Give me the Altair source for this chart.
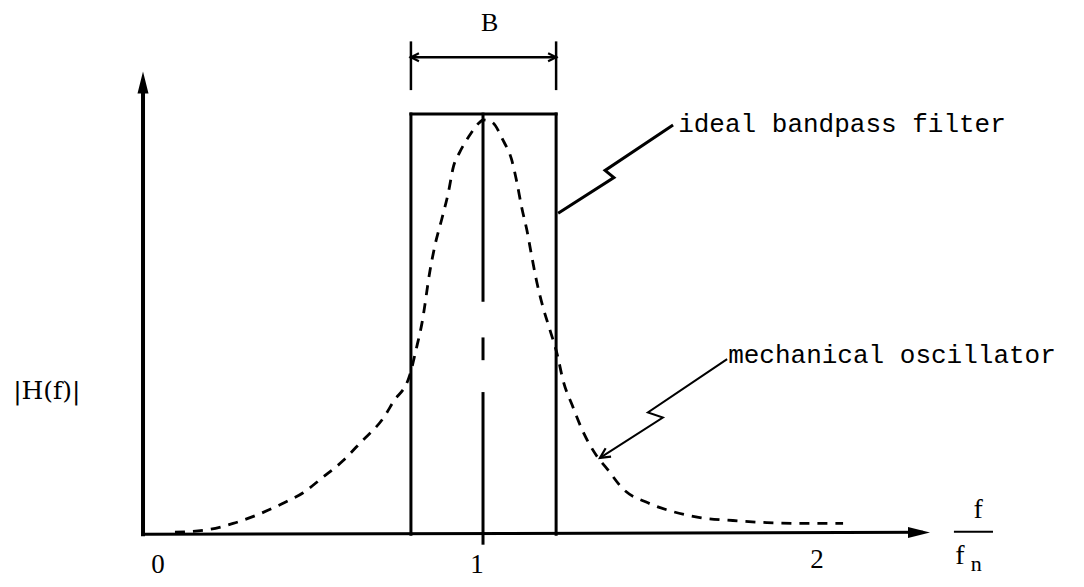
import altair as alt
import pandas as pd

# ---------------- data ----------------
# dashed curve: mechanical oscillator |H(f)| against f/fn
osc_f = [0.094, 0.197, 0.265, 0.338, 0.409, 0.471, 0.526, 0.588, 0.638, 0.712,
         0.735, 0.785, 0.803, 0.821, 0.844, 0.859, 0.879, 0.898, 0.913, 0.932,
         0.957, 0.991, 1.000, 1.026, 1.060, 1.084, 1.099, 1.114, 1.129, 1.143,
         1.158, 1.177, 1.197, 1.218, 1.235, 1.265, 1.291, 1.335, 1.365, 1.412,
         1.485, 1.559, 1.638, 1.735, 1.835, 1.953, 2.059]
osc_h = [0.005, 0.012, 0.026, 0.047, 0.073, 0.099, 0.134, 0.175, 0.217, 0.283,
         0.314, 0.380, 0.439, 0.505, 0.627, 0.689, 0.751, 0.813, 0.875, 0.910,
         0.945, 0.981, 0.986, 0.981, 0.936, 0.892, 0.840, 0.777, 0.724, 0.663,
         0.601, 0.539, 0.486, 0.429, 0.368, 0.302, 0.250, 0.186, 0.156, 0.108,
         0.075, 0.054, 0.040, 0.033, 0.028, 0.026, 0.026]

# ideal bandpass filter: band edges and gain
filter_edges = [0.788, 1.215]
filter_gain = 1.0

# tick labels on the frequency axis
tick_values = [0, 1, 2]
tick_labels = ["0", "1", "2"]

# texts
band_label = "B"
filter_label = "ideal bandpass filter"
osc_label = "mechanical oscillator"
y_label = "|H(f)|"

# ---------------- layout helpers ----------------
xs = alt.Scale(domain=[-0.3971, 2.7441], nice=False, zero=False)
ys = alt.Scale(domain=[-0.0943, 1.2524], nice=False, zero=False)
BLACK = "black"
MONO = "Liberation Mono"
SERIF = "Liberation Serif"


def X(f="x"):
    return alt.X(f"{f}:Q", scale=xs, axis=None)


def Y(f="y"):
    return alt.Y(f"{f}:Q", scale=ys, axis=None)


def rules(rows, width):
    df = pd.DataFrame(rows, columns=["x", "y", "x2", "y2"])
    return alt.Chart(df).mark_rule(color=BLACK, strokeWidth=width, strokeCap="square").encode(
        x=X(), y=Y(), x2="x2:Q", y2="y2:Q")


lo, hi = filter_edges
x_end = 2.29
y_end = 1.078

# axes
axes = rules([[0, 0, 0, y_end]], 4)
xaxis = rules([[0, 0, x_end, 0.005]], 3)

# ideal filter outline
rect = rules([[lo, 0, lo, filter_gain],
              [lo, filter_gain, hi, filter_gain],
              [hi, filter_gain, hi, 0]], 3)

# centre line at f/fn = 1 (long-short broken line)
center_segments = [[1, filter_gain, 1, 0.557], [1, 0.465, 1, 0.418], [1, 0.335, 1, -0.021]]
center = rules(center_segments, 3)

# bandwidth bracket
br_y = 1.135
bracket = rules([[lo, 1.060, lo, 1.170], [hi, 1.060, hi, 1.170], [lo, br_y, hi, br_y]], 2.5)

# fraction bar of f/fn
frac = rules([[2.388, 0.006, 2.497, 0.006]], 2)

# dashed oscillator curve
curve = alt.Chart(pd.DataFrame({"x": osc_f, "y": osc_h})).mark_line(
    color=BLACK, strokeWidth=2.8, strokeDash=[10, 8], interpolate="monotone"
).encode(x=X(), y=Y(), order="x:Q")

# leader lines with zig-zag
lead_ideal = pd.DataFrame({
    "x": [1.559, 1.359, 1.385, 1.221],
    "y": [0.974, 0.866, 0.849, 0.764],
    "o": [0, 1, 2, 3]})
lead_osc = pd.DataFrame({
    "x": [1.718, 1.485, 1.529, 1.344],
    "y": [0.417, 0.290, 0.278, 0.182],
    "o": [0, 1, 2, 3]})
leader1 = alt.Chart(lead_ideal).mark_line(color=BLACK, strokeWidth=3).encode(
    x=X(), y=Y(), order="o:Q")
leader2 = alt.Chart(lead_osc).mark_line(color=BLACK, strokeWidth=2).encode(
    x=X(), y=Y(), order="o:Q")

# arrow heads
filled_heads = pd.DataFrame({"x": [0, 2.3147], "y": [1.1014, 0.0047], "a": [0, 90]})
heads1 = alt.Chart(filled_heads).mark_point(
    shape="M0,0L-0.5,2L0.5,2Z", filled=True, size=484, color=BLACK, opacity=1, strokeWidth=0
).encode(x=X(), y=Y(), angle=alt.Angle("a:Q", scale=None))

open_heads = pd.DataFrame({"x": [lo, hi, 1.344], "y": [br_y, br_y, 0.182],
                           "a": [270, 90, 237], "s": [64, 64, 100]})
heads2 = alt.Chart(open_heads).mark_point(
    shape="M-1,2L0,0L1,2", filled=False, strokeWidth=2.2, color=BLACK, opacity=1
).encode(x=X(), y=Y(), angle=alt.Angle("a:Q", scale=None), size=alt.Size("s:Q", scale=None))


def text(label, x, y, size=26, align="left", font=MONO):
    return alt.Chart(pd.DataFrame({"x": [x], "y": [y], "t": [label]})).mark_text(
        font=font, fontSize=size, align=align, baseline="middle", color=BLACK
    ).encode(x=X(), y=Y(), text="t:N")


texts = [
    text(band_label, 1.0196, 1.2170, 26, "center", SERIF),
    text(filter_label, 1.574, 0.976),
    text(osc_label, 1.721, 0.427),
    text(y_label, -0.382, 0.340, 25, "left", "DejaVu Serif"),
    text("f", 2.456, 0.057, 28, "center", SERIF),
    text("f", 2.403, -0.052, 28, "center", SERIF),
    text("n", 2.451, -0.071, 22, "center", SERIF),
]
tick_nudge = {"0": 0.044, "1": -0.018, "2": -0.018}
tick_lift = {"0": -0.074, "1": -0.072, "2": -0.062}
for v, lab in zip(tick_values, tick_labels):
    texts.append(text(lab, v + tick_nudge[lab], tick_lift[lab], 27, "center", SERIF))

chart = alt.layer(
    curve, axes, xaxis, rect, center, bracket, frac, leader1, leader2, heads1, heads2, *texts
).properties(
    width=1068, height=571,
    autosize=alt.AutoSizeParams(type="fit", contains="padding"),
    padding=0, background="white"
).configure_view(stroke=None)

chart.save("out.html", embed_options={"renderer": "svg", "actions": False})
